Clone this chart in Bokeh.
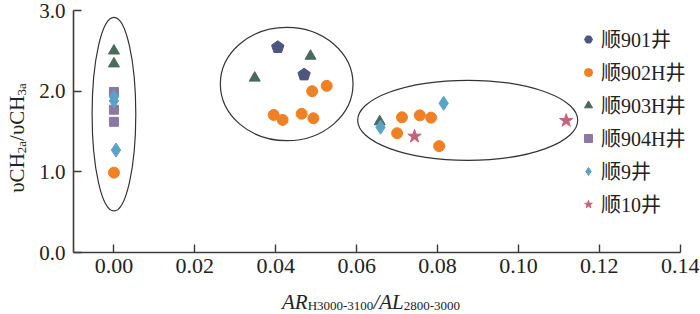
import math
from bokeh.plotting import figure
from bokeh.layouts import row, column
from bokeh.models import (Range1d, FixedTicker, PrintfTickFormatter, Legend, LegendItem, Div)
from bokeh.embed import file_html
from bokeh.resources import INLINE

# ---------------- data ----------------
s901_x = [0.0405, 0.0470]
s901_y = [2.545, 2.205]
s902_x = [0.0, 0.0526, 0.0490, 0.0395, 0.0417, 0.0464, 0.0493, 0.0712, 0.0756, 0.0784, 0.0700, 0.0804]
s902_y = [0.99, 2.066, 2.00, 1.705, 1.644, 1.72, 1.664, 1.676, 1.70, 1.672, 1.479, 1.319]
s903_x = [0.0, 0.0, 0.0486, 0.0348, 0.0657]
s903_y = [2.50, 2.34, 2.435, 2.164, 1.623]
s904_x = [0.0, 0.0, 0.0]
s904_y = [1.99, 1.77, 1.62]
s9_x = [0.0, 0.0, 0.0005, 0.0659, 0.0815]
s9_y = [1.93, 1.88, 1.27, 1.553, 1.85]
s10_x = [0.0743, 0.1118]
s10_y = [1.44, 1.635]

labels = ["顺901井", "顺902H井", "顺903H井", "顺904H井", "顺9井", "顺10井"]

# group ellipses (center x, center y, width, height) in data units
ell_x = [0.0, 0.0427, 0.08745]
ell_y = [1.715, 2.088, 1.639]
ell_w = [0.0108, 0.0328, 0.0544]
ell_h = [2.40, 1.405, 0.992]

x_ticks = [0.0, 0.02, 0.04, 0.06, 0.08, 0.10, 0.12, 0.14]
y_ticks = [0.0, 1.0, 2.0, 3.0]

# ---------------- layout ----------------
YDIV_W = 36
W, H = 700 - YDIV_W, 288
BL, BR, BT, BB = 37, 0, 10, 36
FW, FH = W - BL - BR, H - BT - BB
X0, X1 = -0.01, 0.145      # axis line itself is bounded to [-0.01, 0.14]
Y0, Y1 = 0.0, 3.0

SERIF = "Liberation Serif"
CJK = "Liberation Serif, Noto Sans CJK SC"

c901, c902, c903, c904, c9, c10 = "#4e5580", "#f08024", "#4a6a5c", "#8c78a0", "#5ba3c6", "#c8607a"

p = figure(width=W, height=H, output_backend="svg", toolbar_location=None,
           x_range=Range1d(X0, X1), y_range=Range1d(Y0, Y1),
           min_border_left=BL, min_border_right=BR, min_border_top=BT, min_border_bottom=BB)
p.outline_line_color = None
p.xgrid.visible = False
p.ygrid.visible = False
p.background_fill_color = "white"
p.border_fill_color = "white"

for ax in (p.xaxis[0], p.yaxis[0]):
    ax.axis_line_color = "#3a3a3a"
    ax.axis_line_width = 1.6
    ax.major_tick_line_color = "#3a3a3a"
    ax.major_tick_line_width = 1.4
    ax.major_tick_in = 8
    ax.major_tick_out = 0
    ax.minor_tick_line_color = None
    ax.major_label_text_font = SERIF
    ax.major_label_text_color = "#222222"

p.xaxis[0].ticker = FixedTicker(ticks=x_ticks)
p.xaxis[0].formatter = PrintfTickFormatter(format="%.2f")
p.xaxis[0].bounds = (-0.01, 0.14)
p.xaxis[0].major_label_standoff = 6
p.xaxis[0].major_label_text_font_size = "22px"
p.yaxis[0].ticker = FixedTicker(ticks=y_ticks)
p.yaxis[0].formatter = PrintfTickFormatter(format="%.1f")
p.yaxis[0].major_label_standoff = 8
p.yaxis[0].major_label_text_font_size = "21px"

# ellipses
p.ellipse(x=ell_x, y=ell_y, width=ell_w, height=ell_h, fill_color=None,
          line_color="#333333", line_width=1.2)

# pentagons: small hex (used for the legend) hidden under patches drawn through the data scales
r901 = p.scatter(s901_x, s901_y, marker="hex", angle=math.pi / 2, size=7,
                 fill_color=c901, line_color=c901)
kx = FW / (X1 - X0)
ky = FH / (Y1 - Y0)
r = 6.5
pxs, pys = [], []
for xv, yv in zip(s901_x, s901_y):
    pxs.append([xv + r * math.cos(math.pi / 2 + k * 2 * math.pi / 5) / kx for k in range(5)])
    pys.append([yv + r * math.sin(math.pi / 2 + k * 2 * math.pi / 5) / ky for k in range(5)])
p.patches(xs=pxs, ys=pys, fill_color=c901, line_color=c901, line_width=1)

r902 = p.scatter(s902_x, s902_y, marker="circle", size=11, fill_color=c902, line_color=c902)
r903 = p.scatter(s903_x, s903_y, marker="triangle", size=11, fill_color=c903, line_color=c903)
r904 = p.scatter(s904_x, s904_y, marker="square", size=9, fill_color=c904, line_color=c904)
r9 = p.scatter(s9_x, s9_y, marker="diamond", size=14, fill_color=c9, line_color=c9)
r10 = p.scatter(s10_x, s10_y, marker="star", size=14, fill_color=c10, line_color=c10)

legend = Legend(items=[LegendItem(label=l, renderers=[rr]) for l, rr in
                       zip(labels, [r901, r902, r903, r904, r9, r10])],
                location=(505, 34))
legend.background_fill_alpha = 0
legend.border_line_alpha = 0
legend.padding = 0
legend.margin = 0
legend.glyph_width = 20
legend.glyph_height = 20
legend.label_height = 20
legend.spacing = 4
legend.label_standoff = 3
legend.label_text_font = CJK
legend.label_text_font_size = "20px"
legend.label_text_color = "#222222"
p.add_layout(legend)

# axis titles as HTML text (with sub-scripts)
sub = "font-size:13px;font-style:normal;vertical-align:-1px;"
x_html = ('<span style="display:inline-block;margin-left:282px;white-space:nowrap;">'
          '<i>AR</i><span style="%s">H3000-3100</span><i>/AL</i>'
          '<span style="%s">2800-3000</span></span>') % (sub, sub)
xdiv = Div(text=x_html, width=700, height=26, margin=0,
           styles={"font-family": SERIF, "font-size": "21px", "line-height": "28px",
                   "color": "#222222"})

sub_y = "font-size:13px;vertical-align:-2px;"
y_html = ('<div style="position:absolute;left:19px;top:138px;white-space:nowrap;'
          'transform:translate(-50%%,-50%%) rotate(-90deg);line-height:22px;">'
          'υCH<span style="%s">2a</span>/υCH<span style="%s">3a</span></div>') % (sub_y, sub_y)
ydiv = Div(text=y_html, width=YDIV_W, height=H, margin=0,
           styles={"font-family": SERIF, "font-size": "21px", "color": "#222222",
                   "position": "relative"})

p.margin = 0
layout = column(row(ydiv, p, spacing=0), xdiv, spacing=0)

open("out.html", "w").write(file_html(layout, INLINE))
